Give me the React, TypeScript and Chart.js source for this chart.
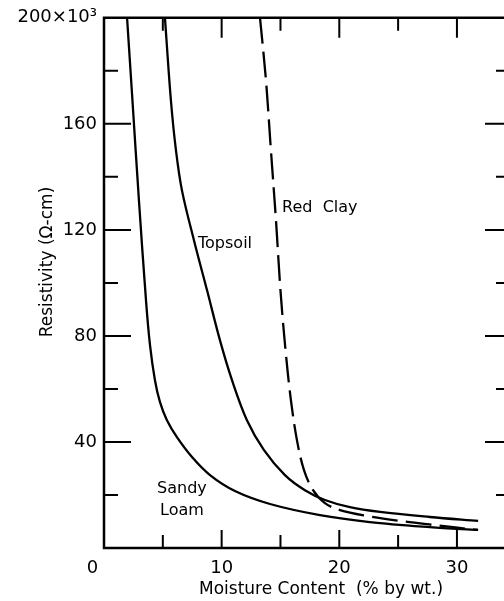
import { useEffect, useRef } from 'react';
import { Chart, registerables } from 'chart.js';

Chart.register(...registerables);

// Moisture content (% by wt.) and resistivity (x10^3 ohm-cm)
const sandyLoamX = [1.96, 2.42, 2.97, 3.57, 3.91, 4.33, 4.76, 5.35, 6.2, 7.48, 9.01, 11.13, 14.11, 18.36, 22.6, 27.7, 31.8];
const sandyLoamY = [200, 168.7, 131.1, 93.4, 76.5, 63.3, 55.0, 48.2, 41.8, 34.3, 27.5, 21.5, 16.6, 12.4, 9.8, 7.9, 6.8];

const topsoilX = [5.18, 5.69, 6.12, 6.63, 7.65, 8.76, 9.86, 10.88, 12.15, 13.6, 15.38, 17.08, 18.78, 20.9, 23.46, 27.7, 31.8];
const topsoilY = [200, 168.7, 149.9, 134.8, 116.0, 97.2, 78.3, 63.3, 48.2, 36.9, 27.5, 21.8, 18.1, 15.4, 13.6, 11.7, 10.2];

const redClayX = [13.26, 13.77, 14.19, 14.62, 15.0, 15.43, 15.89, 16.4, 17.0, 17.77, 18.78, 20.06, 22.35, 25.16, 27.96, 31.79];
const redClayY = [200, 176.3, 149.9, 123.5, 97.2, 74.6, 55.7, 40.7, 29.4, 21.8, 16.9, 14.3, 12.1, 10.2, 8.7, 6.8];

const xLabelTicks = [0, 10, 20, 30];
const yLabelTicks = [40, 80, 120, 160, 200];
const xMinorTicks = [5, 10, 15, 20, 25, 30];
const yMinorTicks = [20, 40, 60, 80, 100, 120, 140, 160, 180];

const curveLabels = [
  { text: 'Red  Clay', x: 15.14, y: 126.6 },
  { text: 'Topsoil', x: 7.99, y: 113 },
  { text: 'Sandy', x: 4.51, y: 20.7 },
  { text: 'Loam', x: 4.76, y: 12.4 },
];

const xTitle = 'Moisture Content  (% by wt.)';
const yTitle = 'Resistivity (Ω-cm)';

const FONT = '"DejaVu Sans", sans-serif';

export default function App() {
  const ref = useRef<HTMLCanvasElement | null>(null);

  useEffect(() => {
    document.body.style.margin = '0';
    const canvas = ref.current;
    if (!canvas) return;

    const framePlugin = {
      id: 'frame',
      afterDraw(chart: any) {
        const { ctx, chartArea: a, scales } = chart;
        const xs = scales.x;
        const ys = scales.y;
        ctx.save();
        ctx.strokeStyle = '#000';
        ctx.lineWidth = 2.5;
        ctx.lineCap = 'butt';
        ctx.beginPath();
        ctx.moveTo(a.right, a.top);
        ctx.lineTo(a.left, a.top);
        ctx.lineTo(a.left, a.bottom);
        ctx.lineTo(a.right, a.bottom);
        ctx.stroke();

        ctx.lineWidth = 2;
        // bottom & top ticks
        xMinorTicks.forEach((v) => {
          const px = xs.getPixelForValue(v);
          const major = v % 10 === 0;
          ctx.beginPath();
          ctx.moveTo(px, a.bottom);
          ctx.lineTo(px, a.bottom - (major ? 18 : 13));
          ctx.moveTo(px, a.top);
          ctx.lineTo(px, a.top + (major ? 20 : 13));
          ctx.stroke();
        });
        // left & right ticks
        yMinorTicks.forEach((v) => {
          const py = ys.getPixelForValue(v);
          const major = v % 40 === 0;
          ctx.beginPath();
          ctx.moveTo(a.left, py);
          ctx.lineTo(a.left + (major ? 27 : 14), py);
          ctx.moveTo(a.right, py);
          ctx.lineTo(a.right - (major ? 19 : 8), py);
          ctx.stroke();
        });

        // curve labels
        ctx.fillStyle = '#000';
        ctx.font = `16px ${FONT}`;
        ctx.textAlign = 'left';
        ctx.textBaseline = 'alphabetic';
        curveLabels.forEach((l) => {
          ctx.fillText(l.text, xs.getPixelForValue(l.x), ys.getPixelForValue(l.y));
        });

        // axis titles
        ctx.font = `17px ${FONT}`;
        ctx.textAlign = 'center';
        ctx.textBaseline = 'middle';
        ctx.fillText(xTitle, 321, 590);
        ctx.save();
        ctx.translate(48, 262);
        ctx.rotate(-Math.PI / 2);
        ctx.fillText(yTitle, 0, 0);
        ctx.restore();
        ctx.restore();
      },
    };

    const mk = (xsArr: number[], ysArr: number[]) => xsArr.map((x, i) => ({ x, y: ysArr[i] }));
    const base = {
      borderColor: '#000',
      borderWidth: 2.3,
      pointRadius: 0,
      tension: 0.35,
      fill: false,
    };

    const chart = new Chart(canvas, {
      type: 'line',
      data: {
        datasets: [
          { ...base, label: 'Sandy Loam', data: mk(sandyLoamX, sandyLoamY) },
          { ...base, label: 'Topsoil', data: mk(topsoilX, topsoilY) },
          { ...base, label: 'Red Clay', data: mk(redClayX, redClayY), borderDash: [26, 8] },
        ],
      },
      options: {
        animation: false,
        responsive: false,
        layout: { padding: { top: 17, right: 0, left: 0, bottom: 0 } },
        plugins: { legend: { display: false }, tooltip: { enabled: false } },
        scales: {
          x: {
            type: 'linear',
            min: 0,
            max: 34,
            border: { display: false },
            grid: { display: false, drawTicks: false },
            afterBuildTicks: (s: any) => {
              s.ticks = xLabelTicks.map((v) => ({ value: v }));
            },
            afterFit: (s: any) => {
              s.height = 53;
            },
            ticks: {
              color: '#000',
              padding: 10,
              maxRotation: 0,
              autoSkip: false,
              font: { family: FONT, size: 18 },
              callback: (v: any) => (Number(v) === 0 ? '0    ' : String(v)),
            },
          },
          y: {
            type: 'linear',
            min: 0,
            max: 200,
            border: { display: false },
            grid: { display: false, drawTicks: false },
            afterBuildTicks: (s: any) => {
              s.ticks = yLabelTicks.map((v) => ({ value: v }));
            },
            afterFit: (s: any) => {
              s.width = 104;
            },
            ticks: {
              color: '#000',
              padding: 7,
              autoSkip: false,
              font: { family: FONT, size: 18 },
              callback: (v: any) => (Number(v) === 200 ? '200×10³' : String(v)),
            },
          },
        },
      },
      plugins: [framePlugin],
    } as any);

    return () => chart.destroy();
  }, []);

  return (
    <div style={{ width: 504, height: 601, background: '#fff' }}>
      <canvas ref={ref} width={504} height={601} style={{ display: 'block', width: 504, height: 601 }} />
    </div>
  );
}
